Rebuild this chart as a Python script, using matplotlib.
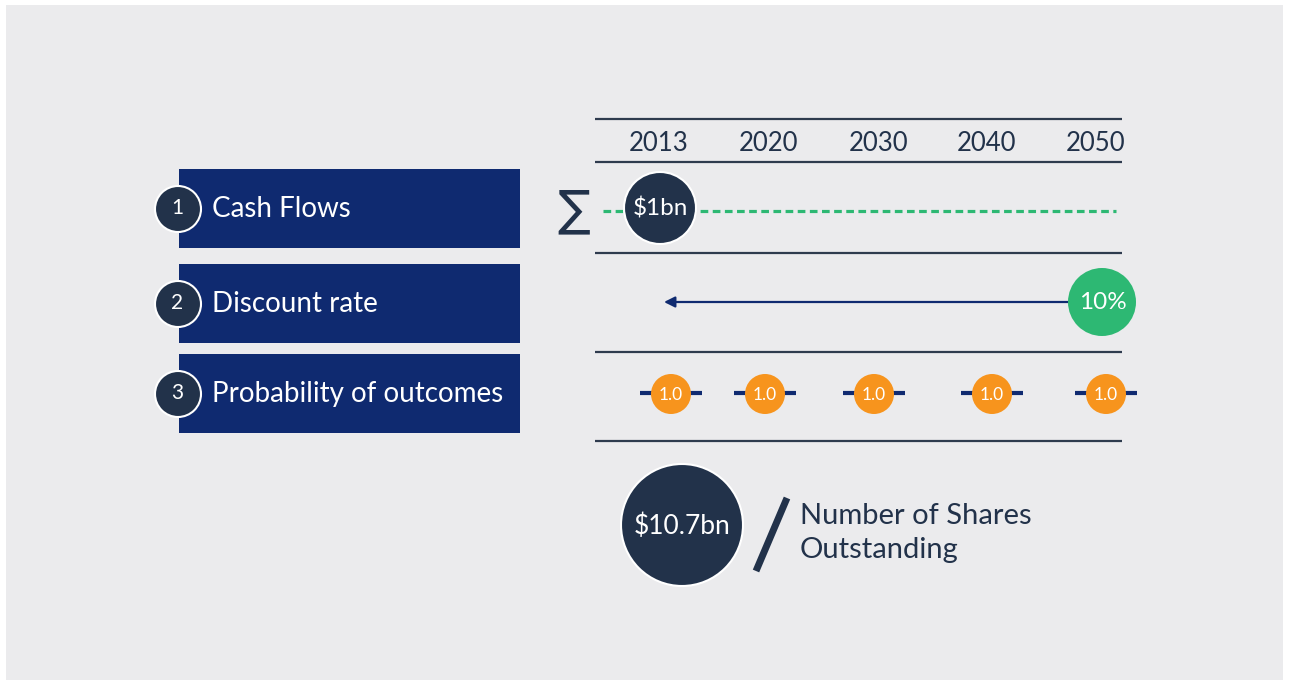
import matplotlib.pyplot as plt
from matplotlib.patches import Circle, Rectangle

# diagram content
years = ["2013", "2020", "2030", "2040", "2050"]
steps = ["Cash Flows", "Discount rate", "Probability of outcomes"]
cash_flow_label = "$1bn"
discount_label = "10%"
probabilities = [1.0, 1.0, 1.0, 1.0, 1.0]
result_label = "$10.7bn"
divisor_label = "Number of Shares\nOutstanding"

# layout (pixel coordinates)
year_x = [659, 769, 879, 986, 1096]
prob_x = [671, 765, 874, 992, 1106]
step_y = [209, 304, 394]
rule_y = [119, 162, 253, 352, 441]

BG = "#EBEBED"
NAVY = "#0F2A70"
DARK = "#22324A"
RULE = "#2E3B4E"
GREEN = "#2DB873"
ORANGE = "#F7941D"
FONT = ["Lato", "DejaVu Sans"]

fig = plt.figure(figsize=(12.89, 6.85), dpi=100)
ax = fig.add_axes([0, 0, 1, 1])
ax.set_xlim(0, 1289)
ax.set_ylim(685, 0)
ax.axis("off")

ax.add_patch(Rectangle((6, 5), 1277, 675, facecolor=BG, edgecolor="none", zorder=0))

# horizontal rules and year headers
for y in rule_y:
	ax.plot([595, 1122], [y, y], color=RULE, lw=1.6, zorder=1, solid_capstyle="butt")
for x, yr in zip(year_x, years):
	ax.text(x, 143, yr, ha="center", va="center", fontsize=18.5, color=DARK, family=FONT)

# step boxes with numbered circles
for i, (y, label) in enumerate(zip(step_y, steps)):
	ax.add_patch(Rectangle((179, y - 40), 341, 79, facecolor=NAVY, edgecolor="none", zorder=1))
	ax.add_patch(Circle((178, y), 23, facecolor=DARK, edgecolor="white", lw=1.5, zorder=2))
	ax.text(177, y - 1, str(i + 1), ha="center", va="center", fontsize=15, color="white",
		family=FONT, zorder=3)
	ax.text(212, y, label, ha="left", va="center", fontsize=20, color="white", family=FONT, zorder=3)

# row 1: cash flows
ax.text(574, 210, "\u2211", ha="center", va="center", fontsize=35, color=DARK,
	family=["DejaVu Sans"])
ax.plot([603, 1116], [211, 211], color=GREEN, lw=2.3, dashes=(2.4, 1.4), zorder=1)
ax.add_patch(Circle((660, 208), 36, facecolor=DARK, edgecolor="white", lw=1.5, zorder=2))
ax.text(660, 208, cash_flow_label, ha="center", va="center", fontsize=17.5, color="white",
	family=FONT, zorder=3)

# row 2: discount rate
ax.annotate("", xy=(664, 302), xytext=(1072, 302),
	arrowprops=dict(arrowstyle="-|>", color=NAVY, lw=1.6, mutation_scale=16, shrinkA=0, shrinkB=0),
	zorder=1)
ax.add_patch(Circle((1102, 302), 34, facecolor=GREEN, edgecolor="none", zorder=2))
ax.text(1103, 302, discount_label, ha="center", va="center", fontsize=17.5, color="white",
	family=FONT, zorder=3)

# row 3: probability of outcomes
for x, p in zip(prob_x, probabilities):
	ax.plot([x - 31, x + 31], [393, 393], color=NAVY, lw=3, zorder=1, solid_capstyle="butt")
	ax.add_patch(Circle((x, 394), 20, facecolor=ORANGE, edgecolor="none", zorder=2))
	ax.text(x, 395, f"{p:.1f}", ha="center", va="center", fontsize=12.5, color="white",
		family=FONT, zorder=3)

# result
ax.add_patch(Circle((682, 525), 61, facecolor=DARK, edgecolor="white", lw=1.5, zorder=2))
ax.text(682, 526, result_label, ha="center", va="center", fontsize=19, color="white",
	family=FONT, zorder=3)
ax.plot([756, 787], [571, 498], color=DARK, lw=5, solid_capstyle="butt")
ax.text(800, 533, divisor_label, ha="left", va="center", fontsize=21, color=DARK,
	family=FONT, linespacing=1.35)

fig.savefig("out.png", dpi=100, facecolor="white")
